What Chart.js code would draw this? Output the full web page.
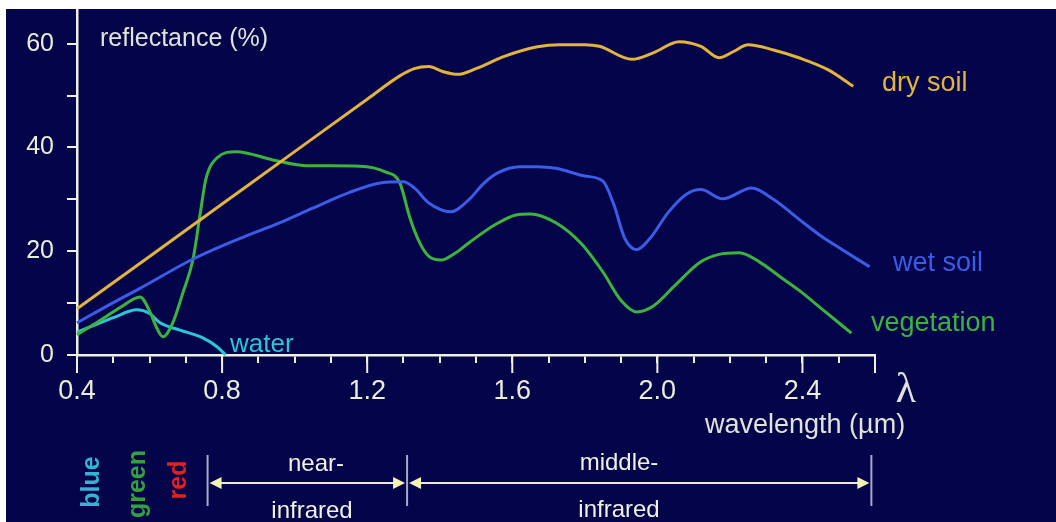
<!DOCTYPE html>
<html>
<head>
<meta charset="utf-8">
<script src="https://cdn.jsdelivr.net/npm/chart.js@4.4.1/dist/chart.umd.min.js"></script>
<style>
html,body{margin:0;padding:0;background:#ffffff;overflow:hidden}
canvas{display:block}
</style>
</head>
<body>
<canvas id="c" width="1056" height="522"></canvas>
<script>
// ---- data (wavelength in µm, reflectance in %) ----
const drySoilX = [0.40,0.60,0.80,1.00,1.20,1.29,1.33,1.37,1.41,1.45,1.50,1.58,1.67,1.73,1.80,1.84,1.93,1.99,2.06,2.12,2.17,2.21,2.25,2.32,2.39,2.47,2.54];
const drySoilY = [8.9,19.0,29.1,39.2,49.3,53.8,55.2,55.6,54.6,54.1,55.2,57.6,59.4,59.8,59.8,59.5,57.0,58.3,60.4,59.5,57.3,58.5,59.8,58.8,57.3,55.0,51.8];

const wetSoilX = [0.40,0.50,0.57,0.72,0.85,0.96,1.05,1.15,1.24,1.30,1.33,1.37,1.43,1.48,1.52,1.56,1.62,1.67,1.72,1.80,1.85,1.88,1.91,1.943,1.98,2.03,2.08,2.12,2.18,2.26,2.32,2.39,2.45,2.51,2.585];
const wetSoilY = [6.2,10.1,12.7,18.5,22.5,25.5,28.3,31.3,33.2,33.4,32.2,29.3,27.6,29.9,33.0,35.1,36.3,36.3,36.0,34.5,33.5,29.0,22.5,20.3,22.5,27.5,31.0,31.9,30.1,32.2,30.0,26.2,23.0,20.3,17.0];

const vegetationX = [0.40,0.46,0.52,0.574,0.60,0.62,0.637,0.664,0.692,0.72,0.74,0.755,0.786,0.84,0.94,1.03,1.18,1.25,1.29,1.317,1.345,1.37,1.405,1.44,1.48,1.55,1.61,1.65,1.72,1.79,1.85,1.90,1.943,1.99,2.05,2.116,2.17,2.226,2.28,2.34,2.39,2.46,2.535];
const vegetationY = [3.9,6.5,9.2,11.2,8.5,5.2,3.5,6.2,12.0,18.5,27.4,33.8,38.0,39.2,37.6,36.5,36.4,35.3,33.2,26.6,21.6,19.0,18.3,19.5,21.6,25.0,27.0,27.2,25.5,21.5,16.0,10.5,8.3,9.5,13.5,17.8,19.4,19.7,18.0,15.0,12.5,8.5,4.2];

const waterX = [0.40,0.45,0.50,0.565,0.60,0.629,0.684,0.747,0.786,0.81];
const waterY = [4.4,5.8,7.2,8.7,8.0,6.2,4.8,3.3,1.6,0.0];

const seriesNames = ['dry soil','wet soil','vegetation','water'];
const yTickLabels = [0,20,40,60];
const xTickLabels = [0.4,0.8,1.2,1.6,2.0,2.4];
const bandEdges = [0.76,1.31,2.59];          // near-infrared / middle-infrared limits as drawn
const bandNames = [['near-','infrared'],['middle-','infrared']];
const visibleBands = ['blue','green','red'];

// ---- styles ----
const BG = '#04044a';
const AXIS = '#f0f0e0';
const COLORS = {dry:'#e2b43c', wet:'#3a5ce6', veg:'#3cb43c', water:'#2cc4d8'};
const FONT = '"Liberation Sans", Arial, sans-serif';

function pts(xs, ys){ return xs.map((x,i)=>({x:x, y:ys[i]})); }
function ds(label, xs, ys, color){
  return {label, data: pts(xs,ys), borderColor: color, backgroundColor: color,
    borderWidth: 3, pointRadius: 0, fill: false, cubicInterpolationMode: 'monotone', clip: false};
}

const decor = {
  id: 'decor',
  beforeDraw(chart){
    const ctx = chart.ctx;
    ctx.save();
    ctx.fillStyle = '#ffffff';
    ctx.fillRect(0,0,chart.width,chart.height);
    ctx.fillStyle = BG;
    ctx.fillRect(6,9,chart.width-6,chart.height-9);
    ctx.restore();
  },
  afterDraw(chart){
    const ctx = chart.ctx;
    const xs = chart.scales.x, ys = chart.scales.y;
    const y0 = ys.getPixelForValue(0);
    ctx.save();
    // longer major ticks on x axis + small left extension of the x axis
    ctx.strokeStyle = AXIS; ctx.lineWidth = 2;
    ctx.beginPath();
    ctx.moveTo(67, y0); ctx.lineTo(xs.left, y0);
    xs.ticks.forEach(t => {
      const k = Math.round(t.value*10);
      if (k % 4 === 0 || k === 26) {
        const p = xs.getPixelForValue(t.value);
        ctx.moveTo(p, y0); ctx.lineTo(p, y0+18);
      }
    });
    ctx.stroke();

    // axis titles
    ctx.fillStyle = '#e2e2dc';
    ctx.font = '25px ' + FONT;
    ctx.textAlign = 'left'; ctx.textBaseline = 'alphabetic';
    ctx.fillText('reflectance (%)', 100, 46);
    ctx.font = '27px ' + FONT;
    ctx.fillText('wavelength (\u00b5m)', 705, 433);
    ctx.font = '42px "Liberation Serif", "DejaVu Serif", serif';
    ctx.textAlign = 'center';
    ctx.fillText('\u03bb', 906, 402);

    // series labels
    ctx.textAlign = 'left';
    ctx.font = '27px ' + FONT;
    ctx.fillStyle = COLORS.dry;   ctx.fillText(seriesNames[0], 882, 91);
    ctx.fillStyle = COLORS.wet;   ctx.fillText(seriesNames[1], 893, 271);
    ctx.fillStyle = COLORS.veg;   ctx.fillText(seriesNames[2], 871, 331);
    ctx.fillStyle = COLORS.water; ctx.font = '26px ' + FONT; ctx.fillText(seriesNames[3], 230, 352);

    // visible band labels (vertical)
    const vb = [[visibleBands[0], 92, 482, '#34b4d4'], [visibleBands[1], 138, 484, '#34a040'], [visibleBands[2], 179, 480, '#e42020']];
    ctx.font = 'bold 25px ' + FONT;
    vb.forEach(([txt, x, y, col]) => {
      ctx.save();
      ctx.translate(x, y);
      ctx.rotate(-Math.PI/2);
      ctx.fillStyle = col;
      ctx.textAlign = 'center'; ctx.textBaseline = 'middle';
      ctx.fillText(txt, 0, 0);
      ctx.restore();
    });

    // infrared bands: bars, arrows, names
    const px = bandEdges.map(v => xs.getPixelForValue(v));
    const ay = 483;
    ctx.strokeStyle = '#a8a8c4'; ctx.lineWidth = 2;
    ctx.beginPath();
    px.forEach(p => { ctx.moveTo(p, 455); ctx.lineTo(p, 506); });
    ctx.stroke();
    ctx.strokeStyle = '#e8e8dc'; ctx.lineWidth = 2;
    ctx.fillStyle = '#f2f2b4';
    const arrow = (a, b) => {
      ctx.beginPath(); ctx.moveTo(a+10, ay); ctx.lineTo(b-10, ay); ctx.stroke();
      ctx.beginPath(); ctx.moveTo(a+2, ay); ctx.lineTo(a+14, ay-6); ctx.lineTo(a+14, ay+6); ctx.closePath(); ctx.fill();
      ctx.beginPath(); ctx.moveTo(b-2, ay); ctx.lineTo(b-14, ay-6); ctx.lineTo(b-14, ay+6); ctx.closePath(); ctx.fill();
    };
    arrow(px[0], px[1]);
    arrow(px[1], px[2]);
    ctx.fillStyle = '#f0f0e4';
    ctx.font = '24px ' + FONT;
    ctx.textAlign = 'center'; ctx.textBaseline = 'alphabetic';
    ctx.fillText(bandNames[0][0], 316, 471);
    ctx.fillText(bandNames[0][1], 312, 518);
    ctx.fillText(bandNames[1][0], 619, 470);
    ctx.fillText(bandNames[1][1], 619, 517);
    ctx.restore();
  }
};

new Chart(document.getElementById('c'), {
  type: 'line',
  data: {
    datasets: [
      ds(seriesNames[0], drySoilX, drySoilY, COLORS.dry),
      ds(seriesNames[1], wetSoilX, wetSoilY, COLORS.wet),
      ds(seriesNames[2], vegetationX, vegetationY, COLORS.veg),
      ds(seriesNames[3], waterX, waterY, COLORS.water)
    ]
  },
  options: {
    responsive: false,
    animation: false,
    devicePixelRatio: 1,
    layout: {padding: {left: 0, top: 10, right: 181, bottom: 0}},
    plugins: {legend: {display: false}, tooltip: {enabled: false}, title: {display: false}},
    scales: {
      x: {
        type: 'linear', min: 0.4, max: 2.6,
        afterFit: s => { s.height = 167; s.paddingLeft = 0; s.paddingRight = 0; },
        border: {display: true, color: AXIS, width: 2.5},
        grid: {display: true, drawOnChartArea: false, drawTicks: true, tickLength: 8, color: AXIS, lineWidth: 2},
        ticks: {
          stepSize: 0.1, autoSkip: false, maxRotation: 0, minRotation: 0, padding: 12,
          color: '#ececdc', font: {family: FONT, size: 27},
          callback: v => { const k = Math.round(v*10); const lab = xTickLabels.find(t => Math.round(t*10) === k); return lab !== undefined ? lab.toFixed(1) : ''; }
        }
      },
      y: {
        type: 'linear', min: 0, max: 66.5,
        afterFit: s => { s.width = 77; s.paddingTop = 0; s.paddingBottom = 0; },
        border: {display: true, color: AXIS, width: 2.5},
        grid: {display: true, drawOnChartArea: false, drawTicks: true, tickLength: 10, color: AXIS, lineWidth: 2},
        ticks: {
          stepSize: 10, includeBounds: false, padding: 13,
          color: '#ececdc', font: {family: FONT, size: 25},
          callback: v => yTickLabels.includes(Math.round(v)) ? String(Math.round(v)) : ''
        }
      }
    }
  },
  plugins: [decor]
});
</script>
</body>
</html>
